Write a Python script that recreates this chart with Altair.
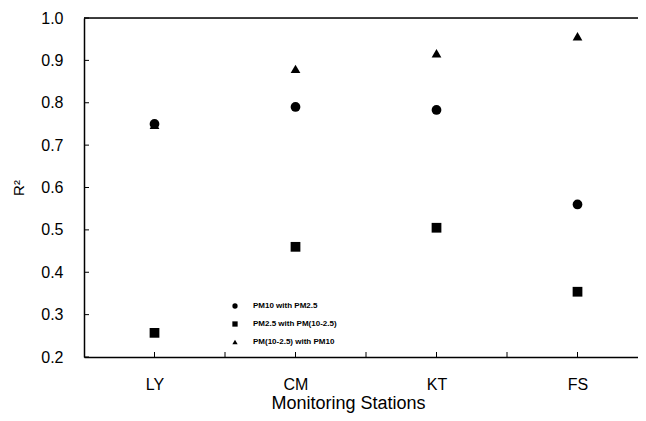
import altair as alt
import pandas as pd

stations = ["LY", "CM", "KT", "FS"]
series = ["PM10 with PM2.5", "PM2.5 with PM(10-2.5)", "PM(10-2.5) with PM10"]
pm10_pm25 = [0.750, 0.790, 0.783, 0.560]
pm25_pmc = [0.257, 0.460, 0.505, 0.354]
pmc_pm10 = [0.748, 0.880, 0.917, 0.957]
y_ticks = [0.2, 0.3, 0.4, 0.5, 0.6, 0.7, 0.8, 0.9, 1.0]
x_ticks = [1, 1.5, 2, 2.5, 3, 3.5, 4]

W, H = 554, 339
FONT = "Liberation Sans"

rows = []
for vals, s in zip([pm10_pm25, pm25_pmc, pmc_pm10], series):
    for i, (st, v) in enumerate(zip(stations, vals)):
        rows.append({"pos": i + 1, "station": st, "r2": v, "series": s})
df = pd.DataFrame(rows)

xscale = alt.Scale(domain=[0.5, 4.429], nice=False, zero=False)
yscale = alt.Scale(domain=[0.2, 1.0], nice=False, zero=False)

label_expr = "datum.value == 1 ? 'LY' : datum.value == 2 ? 'CM' : datum.value == 3 ? 'KT' : datum.value == 4 ? 'FS' : ''"

points = alt.Chart(df).mark_point(filled=True, opacity=1, size=95, color="black").encode(
    x=alt.X("pos:Q", scale=xscale,
            axis=alt.Axis(values=[1, 2, 3, 4], labelExpr=label_expr, ticks=False,
                          title="Monitoring Stations", titleFontSize=18, titleFontWeight="normal",
                          titleX=264, titlePadding=2,
                          labelFontSize=16, labelPadding=19, grid=False,
                          domainColor="black", domainWidth=1.5, labelColor="black",
                          titleColor="black", labelFont=FONT, titleFont=FONT)),
    y=alt.Y("r2:Q", scale=yscale,
            axis=alt.Axis(values=y_ticks, format=".1f", ticks=False, grid=False,
                          title="R²", titleFontSize=15, titleFontWeight="normal",
                          titlePadding=14, labelFontSize=16, labelPadding=21,
                          domainColor="black", domainWidth=1.5, labelColor="black",
                          titleColor="black", labelFont=FONT, titleFont=FONT)),
    shape=alt.Shape("series:N",
                    scale=alt.Scale(domain=series, range=["circle", "square", "triangle-up"]),
                    legend=alt.Legend(title=None, orient="none", legendX=147, legendY=284,
                                      labelFontSize=8, labelFontWeight="bold", labelFont=FONT,
                                      labelColor="black", symbolSize=28, symbolFillColor="black",
                                      symbolStrokeWidth=0, labelOffset=14, rowPadding=10,
                                      padding=0, symbolType="circle")),
)

ytick_df = pd.DataFrame({"v": y_ticks})
yticks = alt.Chart(ytick_df).mark_rule(color="black", strokeWidth=1).encode(
    y=alt.Y("v:Q", scale=yscale), x=alt.value(0), x2=alt.value(5)
)
xtick_df = pd.DataFrame({"v": x_ticks})
xticks = alt.Chart(xtick_df).mark_rule(color="black", strokeWidth=1).encode(
    x=alt.X("v:Q", scale=xscale), y=alt.value(H), y2=alt.value(H - 5)
)
top_df = pd.DataFrame({"v": [1.0]})
top_line = alt.Chart(top_df).mark_rule(color="black", strokeWidth=1.5).encode(
    y=alt.Y("v:Q", scale=yscale), x=alt.value(0), x2=alt.value(W)
)

chart = alt.layer(yticks, xticks, top_line, points).properties(
    width=W, height=H,
    autosize=alt.AutoSizeParams(type="none"),
    padding={"left": 76, "top": 10, "right": 0, "bottom": 56},
).configure_view(stroke=None).configure(background="white")

chart.save("out.html", embed_options={"renderer": "svg", "actions": False})
